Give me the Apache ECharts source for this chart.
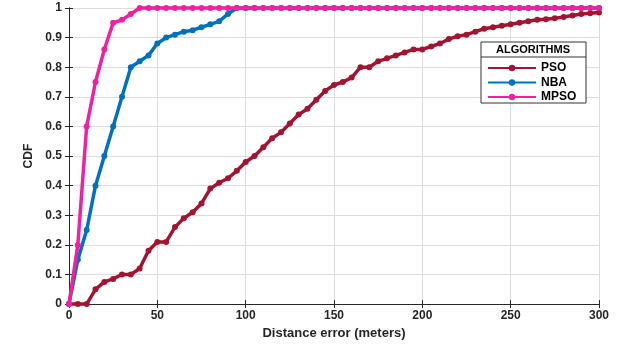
<!DOCTYPE html>
<html>
<head>
<meta charset="utf-8">
<script src="https://cdn.jsdelivr.net/npm/echarts@6/dist/echarts.min.js"></script>
<style>
html,body{margin:0;padding:0;background:#fff;}
#cdf{width:622px;height:345px;}
</style>
</head>
<body>
<div id="cdf"></div>
<script>
// distance error (m), one marker every 5 m
var distance = [0,5,10,15,20,25,30,35,40,45,50,55,60,65,70,75,80,85,90,95,
    100,105,110,115,120,125,130,135,140,145,150,155,160,165,170,175,180,185,190,195,
    200,205,210,215,220,225,230,235,240,245,250,255,260,265,270,275,280,285,290,295,300];
var psoCdf = [0,0,0,0.05,0.075,0.085,0.1,0.1,0.12,0.18,0.21,0.21,0.26,0.29,0.31,0.34,0.39,0.41,0.425,0.45,
    0.48,0.5,0.53,0.56,0.58,0.61,0.64,0.66,0.69,0.72,0.74,0.75,0.765,0.8,0.8,0.82,0.83,0.84,0.85,0.86,
    0.86,0.87,0.88,0.895,0.905,0.91,0.92,0.93,0.935,0.94,0.945,0.95,0.955,0.96,0.962,0.965,0.97,0.975,0.98,0.982,0.985];
var nbaCdf = [0,0.15,0.25,0.4,0.5,0.6,0.7,0.8,0.82,0.84,0.88,0.9,0.91,0.92,0.925,0.935,0.945,0.955,0.98,1,
    1,1,1,1,1,1,1,1,1,1,1,1,1,1,1,1,1,1,1,1,
    1,1,1,1,1,1,1,1,1,1,1,1,1,1,1,1,1,1,1,1,1];
var mpsoCdf = [0,0.2,0.6,0.75,0.86,0.95,0.96,0.98,1,1,1,1,1,1,1,1,1,1,1,1,
    1,1,1,1,1,1,1,1,1,1,1,1,1,1,1,1,1,1,1,1,
    1,1,1,1,1,1,1,1,1,1,1,1,1,1,1,1,1,1,1,1,1];
var seriesNames = ["PSO","NBA","MPSO"];
var seriesColors = ["#a2142f","#0072bd","#f020a0"];

function pairUp(ys){
    var out = [];
    for (var i = 0; i < distance.length; i++) out.push([distance[i], ys[i]]);
    return out;
}

function makeSeries(idx, ys){
    return {
        name: seriesNames[idx],
        type: "line",
        data: pairUp(ys),
        symbol: "circle",
        symbolSize: 6,
        clip: false,
        lineStyle: { width: 3.5, color: seriesColors[idx] },
        itemStyle: { color: seriesColors[idx] },
        z: 3 + idx
    };
}

var fontFam = "Liberation Sans, Arial, sans-serif";
var fontBase = { fontFamily: fontFam, fontWeight: "bold", color: "#262626" };
var splitStyle = { show: true, lineStyle: { color: "#dcdcdc", width: 1 } };

var option = {
    animation: false,
    color: seriesColors,
    grid: { left: 69, right: 23, top: 8, bottom: 38 },
    legend: {
        data: seriesNames,
        orient: "vertical",
        left: 482,
        top: 57,
        z: 200,
        itemWidth: 48,
        itemHeight: 8,
        itemGap: 2.5,
        textStyle: { fontFamily: fontFam, fontWeight: "bold", fontSize: 12, color: "#000" }
    },
    graphic: [
        { type: "rect", shape: { x: 481, y: 42, width: 105, height: 61 },
          style: { fill: "#fff", stroke: "#333", lineWidth: 1 }, z: 90 },
        { type: "line", shape: { x1: 481, y1: 57, x2: 586, y2: 57 },
          style: { stroke: "#333", lineWidth: 1 }, z: 91 },
        { type: "text", x: 533, y: 50,
          style: { text: "ALGORITHMS", fontFamily: fontFam, fontWeight: "bold",
                   fontSize: 11, fill: "#000", textAlign: "center", textVerticalAlign: "middle" }, z: 92 }
    ],
    xAxis: [{
        type: "value", min: 0, max: 300, interval: 50,
        name: "Distance error (meters)", nameLocation: "middle", nameGap: 21,
        nameTextStyle: Object.assign({ fontSize: 13 }, fontBase),
        axisLine: { lineStyle: { color: "#262626", width: 1 } },
        axisTick: { inside: true, length: 4, lineStyle: { color: "#262626" } },
        axisLabel: Object.assign({ fontSize: 12, margin: 6 }, fontBase),
        splitLine: splitStyle
    }, {
        type: "value", position: "top", min: 0, max: 300, interval: 50,
        axisLine: { show: true, lineStyle: { color: "#262626", width: 1 } },
        axisTick: { show: true, inside: true, length: 4, lineStyle: { color: "#262626" } },
        axisLabel: { show: false }, splitLine: { show: false }
    }],
    yAxis: [{
        type: "value", min: 0, max: 1, interval: 0.1,
        name: "CDF", nameLocation: "middle", nameGap: 34, nameRotate: 90,
        nameTextStyle: Object.assign({ fontSize: 12 }, fontBase),
        axisLine: { show: true, lineStyle: { color: "#262626", width: 1 } },
        axisTick: { show: true, inside: true, length: 4, lineStyle: { color: "#262626" } },
        axisLabel: Object.assign({ fontSize: 12, margin: 7,
            formatter: function (v) { return String(Math.round(v * 10) / 10); } }, fontBase),
        splitLine: splitStyle
    }, {
        type: "value", position: "right", min: 0, max: 1, interval: 0.1,
        axisLine: { show: true, lineStyle: { color: "#262626", width: 1 } },
        axisTick: { show: true, inside: true, length: 4, lineStyle: { color: "#262626" } },
        axisLabel: { show: false }, splitLine: { show: false }
    }],
    series: [
        makeSeries(0, psoCdf),
        makeSeries(1, nbaCdf),
        makeSeries(2, mpsoCdf)
    ]
};

var chart = echarts.init(document.getElementById("cdf"));
chart.setOption(option, true);
</script>
</body>
</html>
